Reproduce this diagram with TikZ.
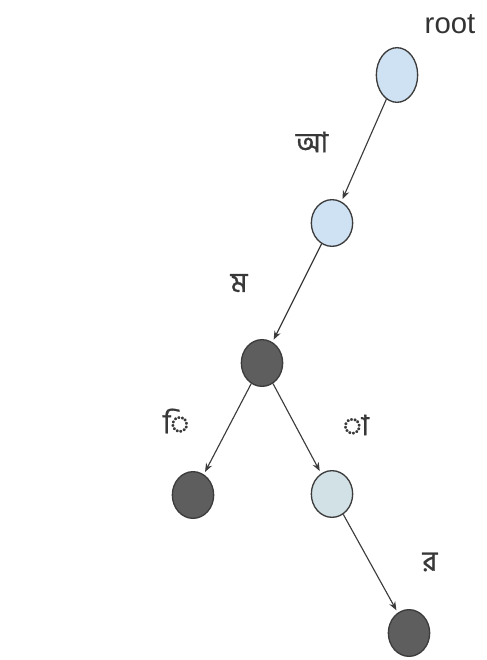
\documentclass[tikz,border=0pt]{standalone}
\usepackage{fontspec}
\setmainfont{Liberation Sans}
\newfontfamily\bngfont[Script=Bengali, FakeBold=1]{Hind Siliguri}
\usetikzlibrary{arrows.meta,shapes.geometric}
\definecolor{trieblue}{HTML}{CFE2F3}
\definecolor{triedark}{HTML}{5E5E5E}
\definecolor{triegrey}{HTML}{D2E1E5}
\definecolor{trieline}{HTML}{3C3C3C}
\tikzset{
  trie/.style = {
    ellipse, draw=trieline, line width=1pt,
    minimum width=31pt, minimum height=35pt, inner sep=0pt
  },
  open/.style  = {trie, fill=trieblue},
  full/.style  = {trie, fill=triedark},
  leaf/.style  = {trie, fill=triegrey},
  link/.style  = {draw=trieline, line width=0.85pt, shorten >=2pt,
                  -{Stealth[length=6.5pt,width=5pt]}},
  glyph/.style = {font=\bngfont\fontsize{21}{24}\selectfont, text=black!78}
}

\begin{document}
\begin{tikzpicture}[x=0.75pt, y=-0.75pt]
\useasboundingbox (0,0) rectangle (486,660);
\node[open, minimum height=41pt] (nroot) at (397,75) {};  % root
\node[open] (na)  at (332,223) {};
\node[full] (nm)  at (262,363) {};
\node[full] (ni)  at (193,495) {};                       % left leaf
\node[leaf] (naa) at (332,494) {};
\node[full] (nr)  at (409,633) {};
\node[font=\fontsize{22}{25}\selectfont, text=black!80] (lroot) at (450,24) {root};
\node[glyph] (la)  at (312,142) {আ};
\node[glyph] (lm)  at (239,283) {ম};
\node[glyph] (li)  at (176,421) {◌ি};
\node[glyph] (laa) at (356,425) {◌া};
\node[glyph] (lr)  at (430,562) {র};
\draw[link] (nroot) -- (na);
\draw[link] (na) -- (nm);
\draw[link] (nm) -- (ni);
\draw[link] (nm) -- (naa);
\draw[link] (naa) -- (nr);
\end{tikzpicture}
\end{document}
